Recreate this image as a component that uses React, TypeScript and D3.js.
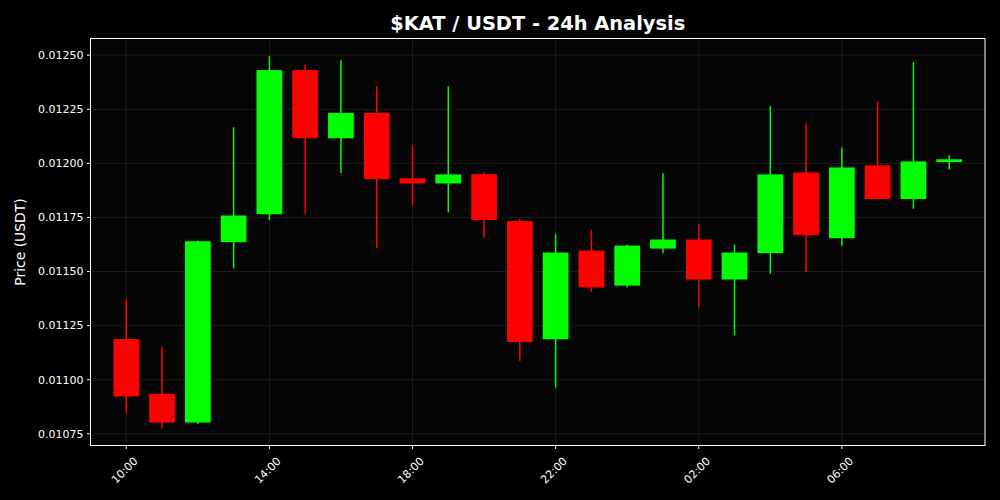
import React from "react";
import * as d3 from "d3";

const hours = ["10:00","11:00","12:00","13:00","14:00","15:00","16:00","17:00","18:00","19:00","20:00","21:00","22:00","23:00","00:00","01:00","02:00","03:00","04:00","05:00","06:00","07:00","08:00","09:00"];
const opens = [0.011188,0.010935,0.010802,0.011636,0.011765,0.012431,0.012116,0.012233,0.011931,0.011907,0.011950,0.011733,0.011187,0.011597,0.011435,0.011606,0.011648,0.011463,0.011585,0.011958,0.011654,0.011991,0.011835,0.012006];
const highs = [0.011374,0.011153,0.011643,0.012167,0.012495,0.012454,0.012477,0.012356,0.012083,0.012356,0.011960,0.011744,0.011675,0.011693,0.011624,0.011954,0.011721,0.011624,0.012264,0.012185,0.012073,0.012287,0.012468,0.012037];
const lows = [0.010844,0.010775,0.010795,0.011515,0.011738,0.011765,0.011955,0.011608,0.011807,0.011773,0.011656,0.011087,0.010964,0.011404,0.011427,0.011585,0.011335,0.011207,0.011489,0.011497,0.011619,0.011835,0.011790,0.011971];
const closes = [0.010923,0.010802,0.011640,0.011759,0.012431,0.012116,0.012233,0.011927,0.011907,0.011949,0.011738,0.011174,0.011588,0.011427,0.011620,0.011648,0.011463,0.011588,0.011949,0.011668,0.011981,0.011835,0.012009,0.012019];
const xTickIdx = [0, 4, 8, 12, 16, 20];
const yTicks = [0.01075, 0.011, 0.01125, 0.0115, 0.01175, 0.012, 0.01225, 0.0125];

const W = 1000, H = 500;
const M = { left: 90.5, right: 985, top: 38.5, bottom: 445.5 };
const FONT = "'DejaVu Sans', sans-serif";

export default function App() {
  const x = d3.scaleLinear().domain([-1, 24]).range([M.left, M.right]);
  const y = d3.scaleLinear().domain([0.010696, 0.012577]).range([M.bottom, M.top]);
  const bw = x(0.72) - x(0);
  const fmt = d3.format(".5f");
  return (
    <svg width={W} height={H} style={{ position: "absolute", left: 0, top: 0, display: "block", background: "#000" }}>
      <rect x={0} y={0} width={W} height={H} fill="#000" />
      <rect x={M.left} y={M.top} width={M.right - M.left} height={M.bottom - M.top} fill="#050505" />
      {yTicks.map((t) => (
        <line key={"gy" + t} x1={M.left} x2={M.right} y1={y(t)} y2={y(t)} stroke="#222" strokeWidth={0.8} />
      ))}
      {xTickIdx.map((i) => (
        <line key={"gx" + i} x1={x(i)} x2={x(i)} y1={M.top} y2={M.bottom} stroke="#222" strokeWidth={0.8} />
      ))}
      {hours.map((h, i) => {
        const up = closes[i] >= opens[i];
        const col = up ? "#00ff00" : "#ff0000";
        const top = y(Math.max(opens[i], closes[i]));
        const bot = y(Math.min(opens[i], closes[i]));
        return (
          <g key={h}>
            <line x1={x(i)} x2={x(i)} y1={y(highs[i])} y2={y(lows[i])} stroke={col} strokeWidth={1.5} />
            <rect x={x(i) - bw / 2} y={top} width={bw} height={Math.max(bot - top, 1)} fill={col} />
          </g>
        );
      })}
      <rect x={M.left} y={M.top} width={M.right - M.left} height={M.bottom - M.top} fill="none" stroke="#fff" strokeWidth={1} />
      {yTicks.map((t) => (
        <g key={"yt" + t}>
          <line x1={M.left - 3.5} x2={M.left} y1={y(t)} y2={y(t)} stroke="#fff" strokeWidth={1} />
          <text x={M.left - 7} y={y(t)} dy="0.35em" textAnchor="end" fill="#fff" fontFamily={FONT} fontSize={11}>
            {fmt(t)}
          </text>
        </g>
      ))}
      {xTickIdx.map((i) => (
        <g key={"xt" + i}>
          <line x1={x(i)} x2={x(i)} y1={M.bottom} y2={M.bottom + 3.5} stroke="#fff" strokeWidth={1} />
          <text
            transform={`translate(${x(i) - 1.8},${M.bottom + 24.8}) rotate(-45)`}
            textAnchor="middle"
            dy="0.35em"
            fill="#fff"
            fontFamily={FONT}
            fontSize={11}
          >
            {hours[i]}
          </text>
        </g>
      ))}
      <text
        transform={`translate(25,${(M.top + M.bottom) / 2}) rotate(-90)`}
        textAnchor="middle"
        fill="#fff"
        fontFamily={FONT}
        fontSize={13.9}
      >
        Price (USDT)
      </text>
      <text x={(M.left + M.right) / 2} y={30} textAnchor="middle" fill="#fff" fontFamily={FONT} fontSize={19.4} fontWeight="bold">
        $KAT / USDT - 24h Analysis
      </text>
    </svg>
  );
}
